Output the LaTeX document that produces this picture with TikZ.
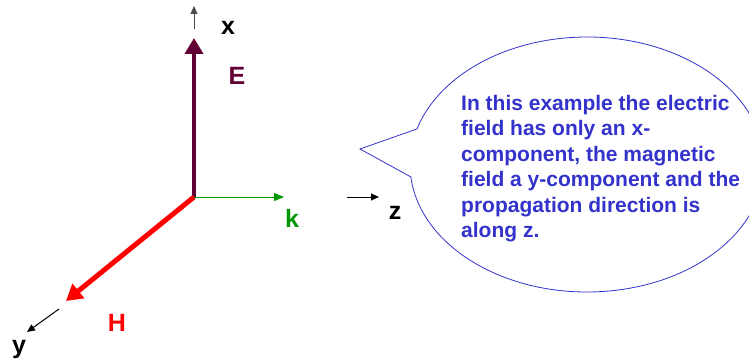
\documentclass[tikz,border=0pt]{standalone}
\usepackage{fontspec}
\setmainfont{Liberation Sans}
\usetikzlibrary{arrows.meta}

\definecolor{emaroon}{RGB}{96,0,51}
\definecolor{kgreen}{RGB}{0,150,0}
\definecolor{noteblue}{RGB}{51,51,204}

\tikzset{
  axislabel/.style={font=\fontsize{25}{28}\selectfont\bfseries, inner sep=0pt},
  smallaxis/.style={-{Triangle[width=7pt,length=8pt]}, line width=1pt},
  bigfield/.style={-{Triangle[width=18pt,length=16pt]}, line width=4.5pt},
}

\begin{document}
\begin{tikzpicture}[x=1pt, y=1pt]
        \useasboundingbox (0,0) rectangle (749,362);

        % Origin and arrow ends
        \coordinate (orig) at (194,165);
        \coordinate (etip) at (194,324);
        \coordinate (ktip) at (284,165);
        \coordinate (htip) at (66,61);

        % Field vectors
        \draw[bigfield, emaroon] (orig) -- (etip);
        \draw[bigfield, red, line width=5pt] (orig) -- (htip);
        \draw[-{Triangle[width=8pt,length=10pt]}, kgreen, line width=1pt] (orig) -- (ktip);

        % Small axis arrows
        \coordinate (xfrom) at (194,333);
        \coordinate (xto) at (194,356);
        \coordinate (yfrom) at (59,53);
        \coordinate (yto) at (27,30);
        \coordinate (zfrom) at (347,165);
        \coordinate (zto) at (379,165);
        \draw[smallaxis, black!70] (xfrom) -- (xto);
        \draw[smallaxis] (yfrom) -- (yto);
        \draw[smallaxis] (zfrom) -- (zto);

        % Labels
        \node[axislabel] (xlab) at (228,334) {x};
        \node[axislabel] (ylab) at (19,13) {y};
        \node[axislabel] (zlab) at (395,149) {z};
        \node[axislabel, emaroon] (elab) at (237,286) {E};
        \node[axislabel, kgreen] (klab) at (292,144) {k};
        \node[axislabel, red] (hlab) at (117,39) {H};

        % Speech bubble with the note
        \draw[noteblue, line width=0.8pt, fill=white]
            (587,197.5) ++(185.6:177 and 127.5)
            arc[start angle=185.6, end angle=523.8, x radius=177, y radius=127.5]
            -- (360,213) -- cycle;
        \node[anchor=north west, inner sep=0pt, align=left, text=noteblue,
              font=\fontsize{21}{25.5}\selectfont\bfseries] (note) at (461,267) {
            In this example the electric\\
            field has only an x-\\
            component, the magnetic\\
            field a y-component and the\\
            propagation direction is\\
            along z.
        };
    \end{tikzpicture}
\end{document}
